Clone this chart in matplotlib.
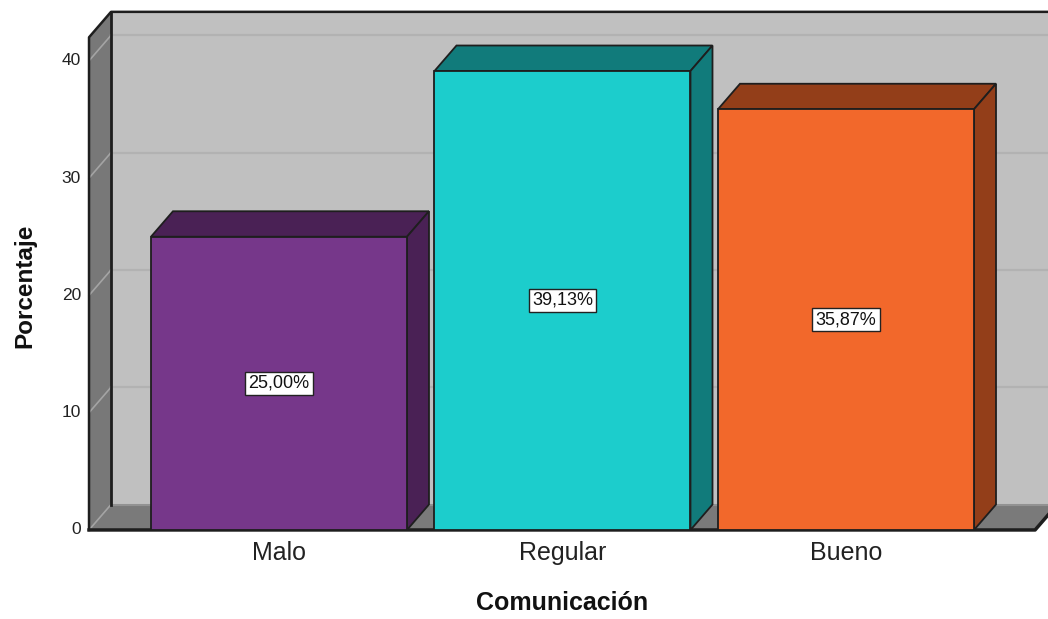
import matplotlib
matplotlib.use("Agg")
import matplotlib.pyplot as plt
from matplotlib.patches import Polygon, Rectangle

categories = ["Malo", "Regular", "Bueno"]
percentages = [25.00, 39.13, 35.87]
front_colors = ["#76378a", "#1ccdcc", "#f2682b"]
shade_colors = ["#4a2155", "#117b7b", "#933e19"]
y_ticks = [0, 10, 20, 30, 40]

plt.rcParams["font.family"] = ["Liberation Sans", "DejaVu Sans"]

fig = plt.figure(figsize=(10.48, 6.19), dpi=100)
ax = fig.add_axes([0, 0, 1, 1])
ax.set_xlim(-0.984, 2.7125)
ax.set_ylim(-7.59, 45.18)
ax.axis("off")

# 3D box geometry (data units)
width = 0.903
dx, dy = 0.0776, 2.17
x0, x1 = -0.670, 2.667
top = 42.0
edge = "#1e1e1e"

# back wall, left wall, floor
ax.add_patch(Rectangle((x0 + dx, dy), x1 - x0 + 0.2, top, fc="#c0c0c0", ec="none", zorder=0))
ax.add_patch(Polygon([(x0, 0), (x0 + dx, dy), (x0 + dx, top + dy), (x0, top)],
                     closed=True, fc="#787878", ec="none", zorder=0))
ax.add_patch(Polygon([(x0, 0), (x1, 0), (x1 + dx, dy), (x0 + dx, dy)],
                     closed=True, fc="#7a7a7a", ec="none", zorder=0))

# gridlines
for t in y_ticks:
    ax.plot([x0, x0 + dx], [t, t + dy], color="#a4a4a4", lw=1.2, zorder=1)
    if t > 0:
        ax.plot([x0 + dx, x1 + dx + 0.2], [t + dy, t + dy], color="#b2b2b2", lw=1.6, zorder=1)
ax.plot([x0 + dx, x1 + dx + 0.2], [dy, dy], color="#929292", lw=1.5, zorder=1)

# box edges
ax.plot([x0, x0, x0 + dx, x1 + dx + 0.2], [0, top, top + dy, top + dy], color=edge, lw=1.8, zorder=2)
ax.plot([x0 + dx, x0 + dx], [dy, top + dy], color=edge, lw=2, zorder=2)
ax.plot([x0, x1, x1 + dx], [0, 0, dy], color=edge, lw=2.5, zorder=2)

# bars
for i, (v, fc, sc) in enumerate(zip(percentages, front_colors, shade_colors)):
    xl, xr = i - width / 2, i + width / 2
    ax.add_patch(Polygon([(xl, v), (xl + dx, v + dy), (xr + dx, v + dy), (xr, v)],
                         closed=True, fc=sc, ec=edge, lw=1.3, zorder=3))
    ax.add_patch(Polygon([(xr, 0), (xr, v), (xr + dx, v + dy), (xr + dx, dy)],
                         closed=True, fc=sc, ec=edge, lw=1.3, zorder=3))
    ax.add_patch(Rectangle((xl, 0), width, v, fc=fc, ec=edge, lw=1.3, zorder=3))
    ax.text(i, v / 2, f"{v:.2f}%".replace(".", ","), ha="center", va="center",
            fontsize=13, color="#111111", zorder=4,
            bbox=dict(boxstyle="square,pad=0.18", fc="white", ec="#222222", lw=1))

# axis labels
for t in y_ticks:
    ax.text(x0 - 0.028, t, str(t), ha="right", va="center", fontsize=12.5, color="#222222")
for i, cat in enumerate(categories):
    ax.text(i, -1.96, cat, ha="center", va="center", fontsize=18, color="#222222")

fig.text(562 / 1048, 1 - 603 / 619, "Comunicación", ha="center", va="center",
         fontsize=18, fontweight="bold", color="#111111")
fig.text(25 / 1048, 1 - 286 / 619, "Porcentaje", ha="center", va="center",
         rotation=90, fontsize=17.5, fontweight="bold", color="#111111")

fig.savefig("out.png", dpi=100)
